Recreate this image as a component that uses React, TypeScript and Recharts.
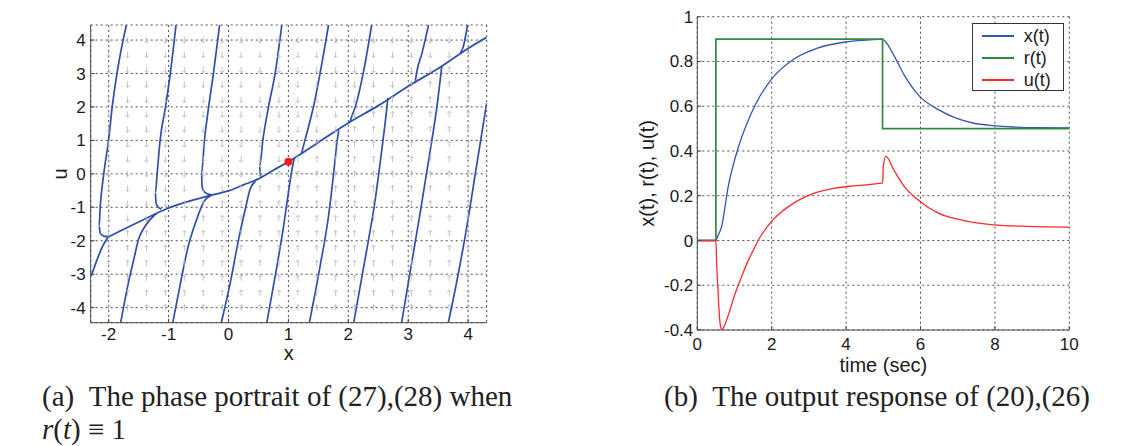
import React from 'react'
import {
    ComposedChart,
    Line,
    Scatter,
    XAxis,
    YAxis,
    CartesianGrid,
    Legend,
    Label
} from 'recharts'

// ---------- (a) phase portrait ----------
const xTicks = [-2, -1, 0, 1, 2, 3, 4]
const uTicks = [-4, -3, -2, -1, 0, 1, 2, 3, 4]

// slow manifold every trajectory lands on
const manifold = [
    [-2.0, -1.88], [-1.5, -1.44], [-1.0, -1.02], [-0.5, -0.74], [-0.25, -0.62], [0, -0.51],
    [0.25, -0.33], [0.5, -0.15], [0.75, 0.11], [1.0, 0.36], [1.5, 0.94], [2.0, 1.52],
    [2.5, 2.04], [3.0, 2.62], [3.5, 3.15], [4.0, 3.75], [4.31, 4.08]
]

// trajectories entering from the top
const top1 = [[-1.705, 4.45], [-1.86, 3.02], [-1.94, 2.02], [-2.0, 1.03], [-2.08, 0.03], [-2.14, -0.96], [-2.16, -1.56], [-2.14, -1.78], [-2.08, -1.86], [-2.0, -1.88]]
const top2 = [[-0.876, 4.45], [-0.97, 3.02], [-1.05, 2.02], [-1.14, 1.03], [-1.19, 0.03], [-1.22, -0.56], [-1.21, -0.86], [-1.18, -0.98], [-1.12, -1.06]]
const top3 = [[-0.148, 4.45], [-0.25, 3.02], [-0.33, 2.02], [-0.4, 1.03], [-0.45, 0.03], [-0.44, -0.41], [-0.39, -0.56], [-0.28, -0.63]]
const top4 = [[0.89, 4.45], [0.78, 3.02], [0.67, 2.02], [0.575, 1.03], [0.52, 0.23], [0.53, -0.02], [0.55, -0.1]]
const top5 = [[1.67, 4.45], [1.53, 3.02], [1.42, 2.02], [1.28, 1.03], [1.22, 0.62]]
const top6 = [[2.39, 4.45], [2.25, 3.02], [2.12, 2.02], [2.04, 1.62], [2.03, 1.55]]
const top7 = [[3.34, 4.45], [3.23, 3.61], [3.14, 3.02], [3.12, 2.78]]
const top8 = [[3.99, 4.45], [3.92, 3.81], [3.87, 3.61]]

// trajectories entering from the bottom
const bot1 = [[-2.29, -3.05], [-2.19, -2.55], [-2.11, -2.2], [-2.05, -2.0], [-2.0, -1.88]]
const bot2 = [[-1.8, -4.45], [-1.67, -3.25], [-1.58, -2.55], [-1.5, -1.95], [-1.39, -1.56], [-1.25, -1.26], [-1.2, -1.19]]
const bot3 = [[-0.93, -4.45], [-0.8, -3.25], [-0.67, -2.15], [-0.53, -1.36], [-0.42, -0.86], [-0.28, -0.63]]
const bot4 = [[-0.12, -4.45], [0.03, -3.25], [0.17, -1.95], [0.28, -1.06], [0.36, -0.46], [0.45, -0.22]]
const bot5 = [[0.64, -4.45], [0.81, -2.75], [0.92, -1.56], [1.0, -0.56], [1.06, 0.13], [1.1, 0.47]]
const bot6 = [[1.35, -4.45], [1.53, -2.75], [1.67, -1.26], [1.75, -0.07], [1.81, 0.93], [1.84, 1.31]]
const bot7 = [[2.09, -4.45], [2.31, -2.25], [2.45, -0.76], [2.56, 0.73], [2.64, 1.92], [2.66, 2.27]]
const bot8 = [[2.89, -4.45], [3.03, -2.95], [3.2, -1.16], [3.37, 0.73], [3.48, 2.02], [3.56, 3.21]]
const bot9 = [[3.67, -4.45], [3.84, -2.95], [3.98, -1.56], [4.14, 0.23], [4.31, 2.12]]

const trajectories = [top1, top2, top3, top4, top5, top6, top7, top8, bot1, bot2, bot3, bot4, bot5, bot6, bot7, bot8, bot9]

const equilibrium = [[1.0, 0.36]]

// quiver grid (gray arrows), and how many arrows per row point down
const qx = [-2, -1.684, -1.368, -1.053, -0.737, -0.421, -0.105, 0.211, 0.526, 0.842, 1.158, 1.474, 1.789, 2.105, 2.421, 2.737, 3.053, 3.368, 3.684, 4]
const qu = [4, 3.56, 3.11, 2.67, 2.22, 1.78, 1.33, 0.89, 0.44, 0, -0.44, -0.89, -1.33, -1.78, -2.22, -2.67, -3.11, -3.56, -4]
const downCount = [20, 19, 18, 16, 15, 14, 13, 11, 10, 9, 7, 4, 3, 1, 0, 0, 0, 0, 0]

// ---------- (b) output response ----------
const tTicks = [0, 2, 4, 6, 8, 10]
const yTicks = [-0.4, -0.2, 0, 0.2, 0.4, 0.6, 0.8, 1]
const legendOrder = ['x(t)', 'r(t)', 'u(t)']

const tX = [0, 0.5, 0.55, 0.65, 0.83, 1.11, 1.34, 1.57, 1.99, 2.59, 3.19, 3.98, 4.63, 4.98, 5.05, 5.32, 5.56, 5.97, 6.48, 6.94, 7.41, 7.96, 8.52, 9.07, 10]
const xVals = [0, 0, 0.02, 0.06, 0.24, 0.42, 0.525, 0.61, 0.72, 0.81, 0.857, 0.887, 0.896, 0.9, 0.89, 0.816, 0.74, 0.645, 0.585, 0.548, 0.525, 0.513, 0.507, 0.504, 0.503]

const tR = [0, 0.5, 0.5, 4.98, 4.98, 10]
const rVals = [0, 0, 0.9, 0.9, 0.5, 0.5]

const tU = [0, 0.5, 0.52, 0.55, 0.58, 0.62, 0.66, 0.72, 0.8, 1.02, 1.18, 1.34, 1.5, 1.67, 2.04, 2.59, 3.15, 3.7, 4.26, 4.98, 5.0, 5.07, 5.28, 5.56, 5.93, 6.48, 7.13, 7.96, 8.89, 10]
const uVals = [0, 0, -0.1, -0.2, -0.3, -0.38, -0.397, -0.385, -0.35, -0.236, -0.166, -0.1, -0.045, 0.01, 0.093, 0.167, 0.212, 0.234, 0.245, 0.257, 0.33, 0.376, 0.316, 0.242, 0.182, 0.122, 0.09, 0.07, 0.063, 0.06]

const FONT = 'Liberation Sans, Arial, sans-serif'
const tickStyle = { fontSize: 17, fill: '#1a1a1a', fontFamily: FONT }
const gridColor = '#3a3a3a'
const frameColor = '#4a4a4a'

const toXU = (pts: number[][]) => pts.map(([x, u]) => ({ x, u }))
const toTV = (t: number[], v: number[]) => t.map((tt, i) => ({ t: tt, v: v[i] }))

const quiverData = qu.flatMap((u, row) =>
    qx.map((x, col) => ({ x, u, dir: col < downCount[row] ? -1 : 1 }))
)

const Arrow = (props: any) => {
    const { cx, cy, payload } = props
    if (cx == null || cy == null) return null
    const s = payload.dir
    const len = 6
    const tip = cy - (s * len) / 2
    const tail = cy + (s * len) / 2
    return (
        <g stroke="#b5b5b5" strokeWidth={0.8} fill="none">
            <line x1={cx} y1={tail} x2={cx} y2={tip} />
            <polyline points={`${cx - 2},${tip + s * 2} ${cx},${tip} ${cx + 2},${tip + s * 2}`} />
        </g>
    )
}

const RedDot = (props: any) => {
    const { cx, cy } = props
    return <circle cx={cx} cy={cy} r={4} fill="#ff1a1a" />
}

function PhasePortrait() {
    return (
        <ComposedChart width={520} height={400} margin={{ top: 25, right: 33.3, left: 29.3, bottom: 17.3 }}>
            <CartesianGrid stroke={gridColor} strokeDasharray="2 3" strokeWidth={0.9} />
            <XAxis
                type="number"
                dataKey="x"
                domain={[-2.3, 4.31]}
                ticks={xTicks}
                allowDataOverflow
                height={60}
                tick={tickStyle}
                tickSize={-4}
                tickMargin={9}
                stroke={frameColor}
            >
                <Label value="x" position="center" fill="#1a1a1a" fontSize={20} fontFamily={FONT} />
            </XAxis>
            <XAxis xAxisId="top" orientation="top" type="number" domain={[-2.3, 4.31]} ticks={xTicks} height={0} tick={false} tickSize={-4} stroke={frameColor} />
            <YAxis
                type="number"
                dataKey="u"
                domain={[-4.45, 4.45]}
                ticks={uTicks}
                allowDataOverflow
                width={61.4}
                tick={tickStyle}
                tickSize={-4}
                tickMargin={9}
                stroke={frameColor}
            >
                <Label value="u" angle={-90} position="center" fill="#1a1a1a" fontSize={20} fontFamily={FONT} />
            </YAxis>
            <YAxis yAxisId="right" orientation="right" type="number" domain={[-4.45, 4.45]} ticks={uTicks} width={0} tick={false} tickSize={-4} stroke={frameColor} />
            <Scatter data={quiverData} shape={<Arrow />} isAnimationActive={false} />
            {trajectories.map((tr, i) => (
                <Line
                    key={i}
                    data={toXU(tr)}
                    dataKey="u"
                    type="monotone"
                    stroke="#2f4fae"
                    strokeWidth={1.7}
                    dot={false}
                    activeDot={false}
                    isAnimationActive={false}
                />
            ))}
            <Line data={toXU(manifold)} dataKey="u" type="monotone" stroke="#2f4fae" strokeWidth={1.8} dot={false} activeDot={false} isAnimationActive={false} />
            <Scatter data={toXU(equilibrium)} shape={<RedDot />} isAnimationActive={false} />
        </ComposedChart>
    )
}

const LegendBox = ({ payload }: any) => {
    const items = [...(payload || [])].sort((a: any, b: any) => legendOrder.indexOf(a.value) - legendOrder.indexOf(b.value))
    return (
        <div
            style={{
                width: 92,
                height: 68,
                border: '1px solid #333',
                background: '#fff',
                boxSizing: 'border-box',
                position: 'relative',
                fontFamily: FONT,
                fontSize: 18,
                color: '#1a1a1a'
            }}
        >
            {items.map((p: any, i: number) => (
                <div key={p.value} style={{ position: 'absolute', left: 9, top: 2 + i * 21.7, height: 20, display: 'flex', alignItems: 'center' }}>
                    <span style={{ width: 32, height: 0, borderTop: `2px solid ${p.color}` }} />
                    <span style={{ marginLeft: 10, lineHeight: '20px' }}>{p.value}</span>
                </div>
            ))}
        </div>
    )
}

function OutputResponse() {
    return (
        <ComposedChart width={583} height={400} margin={{ top: 16.7, right: 73.7, left: 37.5, bottom: 0 }}>
            <CartesianGrid stroke={gridColor} strokeDasharray="2 3" strokeWidth={0.9} />
            <XAxis
                type="number"
                dataKey="t"
                domain={[0, 10]}
                ticks={tTicks}
                allowDataOverflow
                height={70}
                tick={tickStyle}
                tickSize={-4}
                tickMargin={12}
                stroke={frameColor}
            >
                <Label value="time (sec)" position="center" fill="#1a1a1a" fontSize={20} fontFamily={FONT} />
            </XAxis>
            <XAxis xAxisId="top" orientation="top" type="number" domain={[0, 10]} ticks={tTicks} height={0} tick={false} tickSize={-4} stroke={frameColor} />
            <YAxis
                type="number"
                domain={[-0.4, 1]}
                ticks={yTicks}
                allowDataOverflow
                width={99.8}
                tick={tickStyle}
                tickSize={-4}
                tickMargin={8}
                stroke={frameColor}
            >
                <Label value="x(t), r(t), u(t)" angle={-90} position="center" fill="#1a1a1a" fontSize={20} fontFamily={FONT} />
            </YAxis>
            <YAxis yAxisId="right" orientation="right" type="number" domain={[-0.4, 1]} ticks={yTicks} width={0} tick={false} tickSize={-4} stroke={frameColor} />
            <Legend
                layout="vertical"
                align="center"
                verticalAlign="middle"
                content={<LegendBox />}
                wrapperStyle={{ left: 411.7, top: 23.3, width: 92, height: 68 }}
            />
            <Line name="x(t)" data={toTV(tX, xVals)} dataKey="v" type="monotone" stroke="#3355b5" strokeWidth={1.3} dot={false} activeDot={false} isAnimationActive={false} />
            <Line name="r(t)" data={toTV(tR, rVals)} dataKey="v" type="linear" stroke="#2f8a3f" strokeWidth={1.7} dot={false} activeDot={false} isAnimationActive={false} />
            <Line name="u(t)" data={toTV(tU, uVals)} dataKey="v" type="monotone" stroke="#ff2a2a" strokeWidth={1.3} dot={false} activeDot={false} isAnimationActive={false} />
        </ComposedChart>
    )
}

const captionStyle: React.CSSProperties = {
    position: 'absolute',
    fontFamily: 'Liberation Serif, Times New Roman, serif',
    fontSize: 29,
    lineHeight: '29px',
    color: '#222',
    whiteSpace: 'nowrap'
}

export default function App() {
    return (
        <div style={{ position: 'absolute', left: 0, top: 0, width: 1143, height: 446, background: '#fff', overflow: 'hidden' }}>
            <div style={{ position: 'absolute', left: 0, top: 0 }}>
                <PhasePortrait />
            </div>
            <div style={{ position: 'absolute', left: 560, top: 0 }}>
                <OutputResponse />
            </div>
            <div style={{ ...captionStyle, left: 42, top: 382 }}>(a)&ensp;The phase portrait of (27),(28) when</div>
            <div style={{ ...captionStyle, left: 42, top: 415 }}>
                <i>r</i>(<i>t</i>) &equiv; 1
            </div>
            <div style={{ ...captionStyle, left: 664, top: 382 }}>(b)&ensp;The output response of (20),(26)</div>
        </div>
    )
}
